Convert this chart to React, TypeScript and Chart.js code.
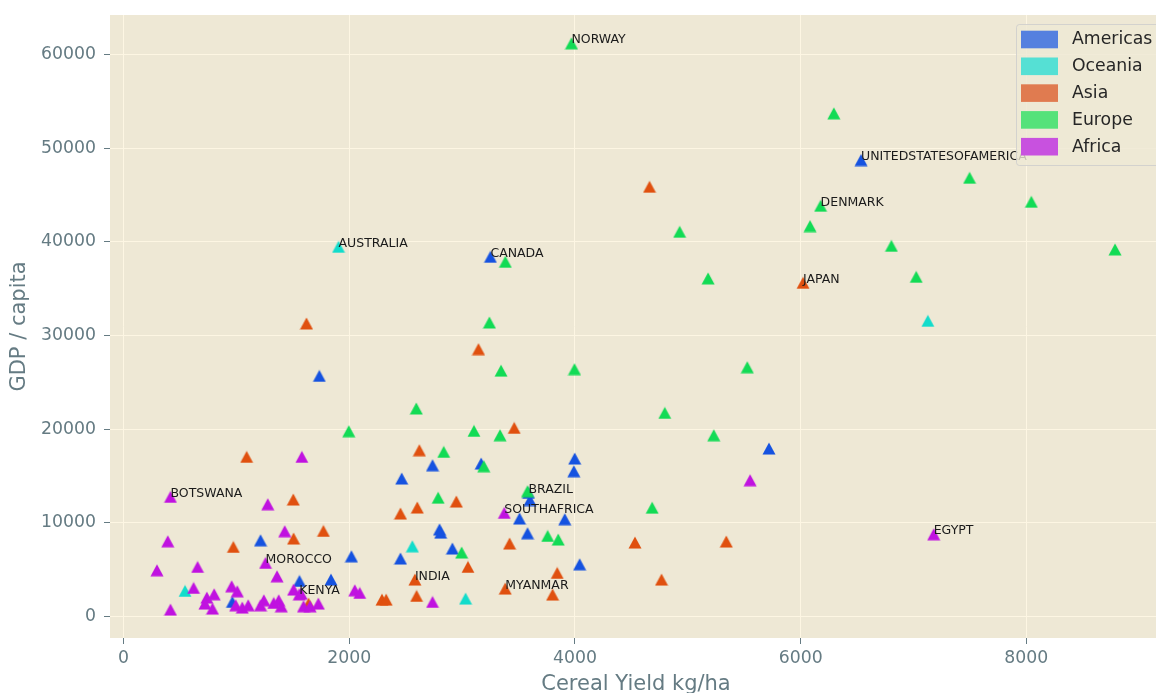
import React, { useEffect, useRef } from 'react';
import { Chart, registerables } from 'chart.js';
Chart.register(...registerables);

const regions = ['Americas', 'Oceania', 'Asia', 'Europe', 'Africa'];
const markerColors = ['#1552e0', '#12dccb', '#e0500f', '#12db55', '#c012e0'];
const legendColors = ['#5580df', '#55e0d4', '#e07b50', '#55e27a', '#c851df'];

const xTickValues = [0, 2000, 4000, 6000, 8000];
const yTickValues = [0, 10000, 20000, 30000, 40000, 50000, 60000];

// labelled points come first in each region list
const americasNames = ['CANADA', 'UNITEDSTATESOFAMERICA', 'BRAZIL'];
const americasX = [3251, 6535, 3588, 1735, 3998, 3990, 5719, 3169, 2738, 2465, 3601, 3509, 3910, 3580, 2800, 2810, 2914, 2454, 4042, 1214, 2019, 1559, 1838, 964];
const americasY = [38408, 48739, 13200, 25694, 16870, 15513, 17938, 16335, 16154, 14733, 12436, 10459, 10385, 8890, 9300, 8950, 7254, 6186, 5577, 8141, 6432, 3793, 3942, 1549];

const oceaniaNames = ['AUSTRALIA'];
const oceaniaX = [1905, 7127, 545, 2559, 3031];
const oceaniaY = [39476, 31571, 2725, 7500, 1912];

const asiaNames = ['JAPAN', 'INDIA', 'MYANMAR'];
const asiaX = [6021, 2582, 3382, 4661, 1621, 3145, 3462, 2621, 2949, 2603, 2454, 3421, 3052, 3843, 3802, 2597, 2290, 2327, 4532, 5341, 4767, 1091, 1504, 973, 1507, 1771, 1639];
const asiaY = [35630, 3942, 2981, 45887, 31293, 28547, 20139, 17756, 12276, 11635, 10994, 7788, 5288, 4647, 2340, 2190, 1800, 1800, 7895, 8002, 3942, 17041, 12489, 7425, 8323, 9135, 1378];

const europeNames = ['NORWAY', 'DENMARK'];
const europeX = [3969, 6177, 3383, 6294, 7497, 8044, 8786, 6083, 6804, 7024, 4928, 5180, 3242, 3345, 3996, 5527, 4796, 5230, 1996, 2594, 3105, 3336, 2837, 3192, 2788, 4684, 3758, 3852, 2996, 3580];
const europeY = [61207, 43857, 37874, 53729, 46848, 44284, 39199, 41688, 39583, 36271, 41079, 36100, 31400, 26250, 26410, 26620, 21741, 19359, 19786, 22212, 19818, 19359, 17575, 16047, 12682, 11613, 8600, 8215, 6827, 13376];

const africaNames = ['BOTSWANA', 'EGYPT', 'SOUTHAFRICA', 'MOROCCO', 'KENYA'];
const africaX = [416, 7179, 3374, 1258, 1557, 1580, 1278, 5552, 392, 1428, 296, 656, 1360, 621, 416, 738, 803, 721, 788, 958, 1008, 994, 1052, 1105, 1214, 1243, 1507, 1574, 1331, 1375, 1398, 1595, 1653, 1726, 2049, 2093, 2738];
const africaY = [12767, 8782, 11058, 5716, 2370, 17041, 11987, 14551, 8034, 9103, 4936, 5288, 4295, 3045, 737, 2019, 2372, 1378, 844, 3226, 2692, 1197, 951, 1197, 1197, 1731, 2874, 2447, 1442, 1731, 1090, 1090, 1090, 1378, 2799, 2511, 1549];

const regionXs = [americasX, oceaniaX, asiaX, europeX, africaX];
const regionYs = [americasY, oceaniaY, asiaY, europeY, africaY];
const regionNames = [americasNames, oceaniaNames, asiaNames, europeNames, africaNames];

const FONT = '"DejaVu Sans", "Liberation Sans", sans-serif';
const TEXT_GRAY = '#657b83';

function makeTriangle(color: string): HTMLCanvasElement {
  const c = document.createElement('canvas');
  c.width = 14;
  c.height = 13;
  const g = c.getContext('2d')!;
  g.fillStyle = color;
  g.beginPath();
  g.moveTo(7, 0.5);
  g.lineTo(13.5, 12.5);
  g.lineTo(0.5, 12.5);
  g.closePath();
  g.fill();
  return c;
}

function zeroPadding(s: any) {
  s.paddingTop = 0;
  s.paddingBottom = 0;
  s.paddingLeft = 0;
  s.paddingRight = 0;
}

const backgroundPlugin = {
  id: 'bg',
  beforeDraw(chart: any) {
    const { ctx, chartArea } = chart;
    ctx.save();
    ctx.fillStyle = '#ffffff';
    ctx.fillRect(0, 0, chart.width, chart.height);
    ctx.fillStyle = '#eee8d5';
    ctx.fillRect(chartArea.left, chartArea.top, chartArea.right - chartArea.left, chartArea.bottom - chartArea.top);
    ctx.restore();
  },
};

const annotationPlugin = {
  id: 'annot',
  afterDatasetsDraw(chart: any) {
    const { ctx } = chart;
    ctx.save();
    ctx.font = '12.5px ' + FONT;
    ctx.fillStyle = '#1a1a1a';
    ctx.textAlign = 'left';
    ctx.textBaseline = 'alphabetic';
    regionNames.forEach((names, i) => {
      const meta = chart.getDatasetMeta(i);
      names.forEach((n, j) => {
        const el = meta.data[j];
        if (el) ctx.fillText(n, el.x, el.y);
      });
    });
    ctx.restore();
  },
};

const legendPlugin = {
  id: 'customLegend',
  afterDraw(chart: any) {
    const { ctx } = chart;
    ctx.save();
    const lx = 1016.5, ly = 24.5, lw = 170, lh = 141;
    ctx.beginPath();
    (ctx as any).roundRect(lx, ly, lw, lh, 3);
    ctx.fillStyle = 'rgba(238,232,213,0.8)';
    ctx.fill();
    ctx.strokeStyle = 'rgba(204,204,204,0.8)';
    ctx.lineWidth = 1;
    ctx.stroke();
    ctx.font = '17.3px ' + FONT;
    ctx.textAlign = 'left';
    ctx.textBaseline = 'middle';
    regions.forEach((r, i) => {
      const cy = 39.5 + i * 26.8;
      ctx.fillStyle = legendColors[i];
      ctx.fillRect(1021, cy - 8.8, 37, 17.6);
      ctx.fillStyle = '#262626';
      ctx.fillText(r, 1072, cy + 0.5);
    });
    ctx.restore();
  },
};

export default function App() {
  const ref = useRef<HTMLCanvasElement>(null);
  useEffect(() => {
    if (!ref.current) return;
    const datasets = regions.map((r, i) => ({
      label: r,
      data: regionXs[i].map((x, j) => ({ x, y: regionYs[i][j] })),
      pointStyle: makeTriangle(markerColors[i]),
      pointRadius: 7,
      pointHoverRadius: 7,
      backgroundColor: markerColors[i],
      borderColor: markerColors[i],
      order: regions.length - i,
    }));
    const chart = new Chart(ref.current, {
      type: 'scatter',
      data: { datasets },
      options: {
        animation: false,
        responsive: false,
        events: [],
        layout: { padding: { top: 15, right: 0, left: 0, bottom: 0 } },
        plugins: { legend: { display: false }, tooltip: { enabled: false } },
        scales: {
          x: {
            type: 'linear',
            min: -120,
            max: 9202,
            afterFit: (s: any) => { s.height = 55; zeroPadding(s); },
            afterBuildTicks: (s: any) => { s.ticks = xTickValues.map((v) => ({ value: v })); },
            border: { display: false },
            grid: { color: '#fdf6e3', lineWidth: 1, drawTicks: true, tickLength: 6, tickColor: TEXT_GRAY, tickWidth: 1 },
            ticks: { padding: 4, maxRotation: 0, color: TEXT_GRAY, font: { family: FONT, size: 17.3 }, callback: (v: any) => String(v) },
            title: { display: true, text: 'Cereal Yield kg/ha', color: TEXT_GRAY, font: { family: FONT, size: 21 }, padding: { top: 0, bottom: -4 } },
          },
          y: {
            type: 'linear',
            min: -2297,
            max: 64231,
            afterFit: (s: any) => { s.width = 110; zeroPadding(s); },
            afterBuildTicks: (s: any) => { s.ticks = yTickValues.map((v) => ({ value: v })); },
            border: { display: false },
            grid: { color: '#fdf6e3', lineWidth: 1, drawTicks: true, tickLength: 6, tickColor: TEXT_GRAY, tickWidth: 1 },
            ticks: { padding: 8, color: TEXT_GRAY, font: { family: FONT, size: 17.3 }, callback: (v: any) => String(v) },
            title: { display: true, text: 'GDP / capita', color: TEXT_GRAY, font: { family: FONT, size: 21 }, padding: { top: 7, bottom: 0 } },
          },
        },
      },
      plugins: [backgroundPlugin, annotationPlugin, legendPlugin],
    } as any);
    return () => chart.destroy();
  }, []);
  return (
    <div style={{ position: 'fixed', left: 0, top: 0, width: 1156, height: 693, overflow: 'hidden', background: '#fff' }}>
      <canvas ref={ref} width={1170} height={693} style={{ display: 'block', width: 1170, height: 693 }} />
    </div>
  );
}
